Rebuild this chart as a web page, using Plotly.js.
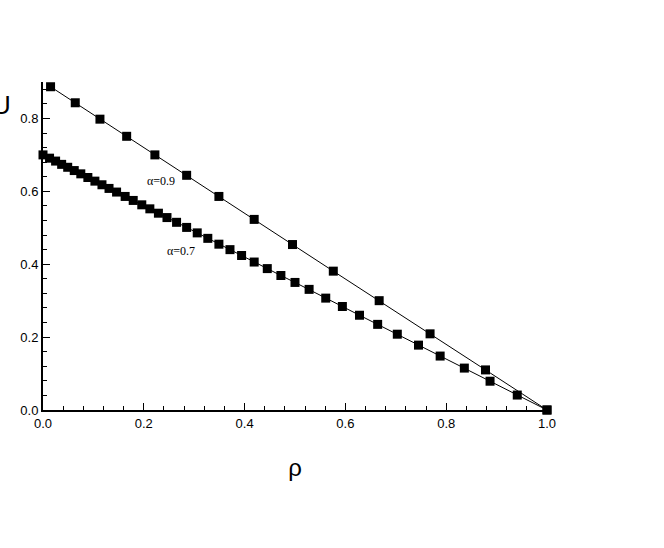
<!DOCTYPE html>
<html>
<head>
<meta charset="utf-8">
<script src="https://cdn.plot.ly/plotly-3.0.1.min.js"></script>
<style>html,body{margin:0;padding:0;background:#fff;}#chart{width:664px;height:548px;}</style>
</head>
<body>
<div id="chart"></div>
<script>
// alpha = 0.9 series
const rho09 = [0.015, 0.064, 0.113, 0.166, 0.222, 0.285, 0.349, 0.419, 0.495, 0.576, 0.667, 0.768, 0.878, 1.0];
const val09 = [0.887, 0.843, 0.798, 0.751, 0.700, 0.644, 0.586, 0.523, 0.454, 0.381, 0.300, 0.209, 0.110, 0.0];
// alpha = 0.7 series
const rho07 = [0.000, 0.013, 0.025, 0.037, 0.049, 0.062, 0.075, 0.089, 0.103, 0.117,
               0.131, 0.146, 0.163, 0.179, 0.196, 0.212, 0.229, 0.246, 0.265, 0.285,
               0.306, 0.327, 0.349, 0.371, 0.394, 0.419, 0.445, 0.472, 0.500, 0.528,
               0.561, 0.594, 0.628, 0.664, 0.703, 0.745, 0.788, 0.836, 0.887, 0.941, 1.0];
const val07 = [0.700, 0.691, 0.683, 0.674, 0.666, 0.657, 0.648, 0.638, 0.628, 0.618,
               0.608, 0.598, 0.586, 0.575, 0.563, 0.552, 0.540, 0.528, 0.515, 0.501,
               0.486, 0.471, 0.455, 0.440, 0.424, 0.406, 0.388, 0.369, 0.350, 0.331,
               0.307, 0.284, 0.260, 0.235, 0.208, 0.178, 0.148, 0.115, 0.079, 0.041, 0.0];
const labels = ["α=0.9", "α=0.7"];
const xTitle = "ρ";
const yTitle = "U";

const markerStyle = {symbol: 'square', size: 9, color: '#000'};
const lineStyle = {color: '#000', width: 1};

const traces = [
  {x: rho09, y: val09, mode: 'lines+markers', marker: markerStyle, line: lineStyle, cliponaxis: false, name: labels[0]},
  {x: rho07, y: val07, mode: 'lines+markers', marker: markerStyle, line: lineStyle, cliponaxis: false, name: labels[1]}
];

const axisCommon = {
  showline: true, linecolor: '#000', linewidth: 2,
  showgrid: false, zeroline: false,
  ticks: 'inside', ticklen: 7, tickwidth: 1, tickcolor: '#000',
  tickfont: {family: 'Liberation Sans, Arial, sans-serif', size: 13, color: '#000'},
  tickformat: '.1f',
  mirror: false
};

const layout = {
  width: 664, height: 548,
  margin: {l: 43, r: 117, t: 82, b: 138},
  paper_bgcolor: '#fff', plot_bgcolor: '#fff',
  showlegend: false,
  xaxis: Object.assign({}, axisCommon, {
    range: [0, 1], dtick: 0.2, tick0: 0,
    minor: {dtick: 0.04, ticks: 'inside', ticklen: 4, tickcolor: '#000', tickwidth: 1, showgrid: false},
    title: {text: xTitle, font: {family: 'Liberation Sans, Arial, sans-serif', size: 24, color: '#000'}, standoff: 30}
  }),
  yaxis: Object.assign({}, axisCommon, {
    range: [0, 0.9], dtick: 0.2, tick0: 0,
    minor: {dtick: 0.04, ticks: 'inside', ticklen: 4, tickcolor: '#000', tickwidth: 1, showgrid: false}
  }),
  annotations: [
    {x: 0.234, y: 0.627, xref: 'x', yref: 'y', text: labels[0], showarrow: false,
     font: {family: 'Liberation Serif, Times New Roman, serif', size: 12, color: '#000'}},
    {x: 0.274, y: 0.435, xref: 'x', yref: 'y', text: labels[1], showarrow: false,
     font: {family: 'Liberation Serif, Times New Roman, serif', size: 12, color: '#000'}},
    {x: -0.083, y: 0.93, xref: 'paper', yref: 'paper', xanchor: 'center', yanchor: 'middle',
     text: yTitle, showarrow: false,
     font: {family: 'Liberation Sans, Arial, sans-serif', size: 26, color: '#000'}}
  ]
};

Plotly.newPlot('chart', traces, layout, {staticPlot: true, displayModeBar: false});
</script>
</body>
</html>
